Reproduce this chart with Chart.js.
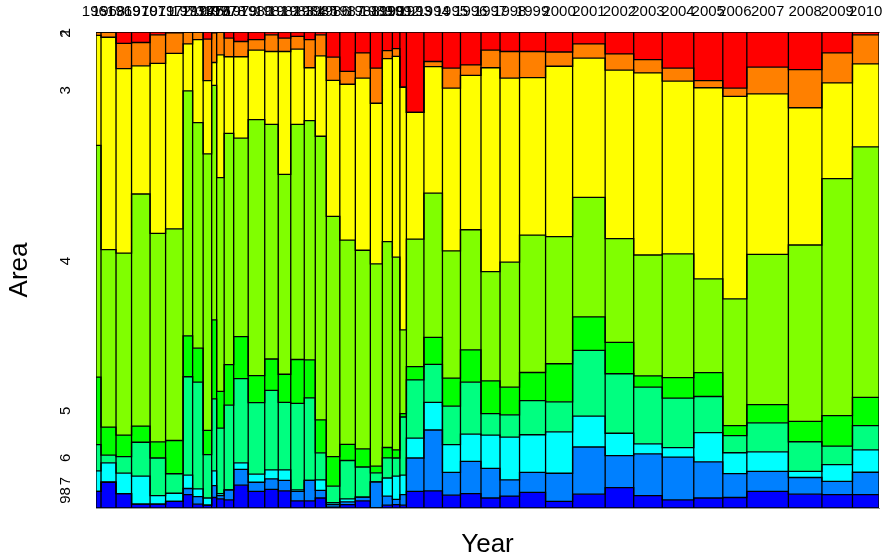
<!DOCTYPE html>
<html>
<head>
<meta charset="utf-8">
<script src="https://cdn.jsdelivr.net/npm/chart.js@4.4.1/dist/chart.umd.min.js"></script>
<style>
  html, body { margin: 0; padding: 0; background: #fff; }
  #wrap { width: 885px; height: 558px; }
</style>
</head>
<body>
<div id="wrap"><canvas id="chart"></canvas></div>
<script>
const years = [1961, 1968, 1969, 1970, 1971, 1972, 1973, 1974, 1975, 1976, 1977, 1978, 1979, 1980, 1981,
  1982, 1983, 1984, 1985, 1986, 1987, 1988, 1989, 1990, 1991, 1992, 1993, 1994, 1995, 1996, 1997, 1998,
  1999, 2000, 2001, 2002, 2003, 2004, 2005, 2006, 2007, 2008, 2009, 2010];

// observations per year (column widths)
const yearCounts = [10, 30, 31, 37, 31, 35, 19, 21, 17, 10, 15, 19, 29, 33, 27, 25, 27, 22, 22, 27,
  31, 30, 24, 20, 15, 13, 35, 37, 36, 41, 38, 39, 52, 54, 65, 57, 57, 63, 58, 48, 83, 67, 61, 53];

const areaLabels = ['1', '2', '3', '4', '5', '6', '7', '8', '9'];
const areaColors = ['#FF0000', '#FF8000', '#FFFF00', '#80FF00', '#00FF00', '#00FF80', '#00FFFF', '#0080FF', '#0000FF'];

// share (%) of each area within each year
const area1 = [0, 0, 2.4, 2.2, 0.6, 0.2, 0, 0, 1.5, 0.2, 0, 1.3, 2.0, 1.6, 0.6, 1.3, 0.9, 1.6, 0.6, 5.3,
  8.3, 4.4, 7.6, 3.9, 3.5, 11.6, 16.9, 6.2, 7.6, 6.9, 3.8, 4.1, 4.1, 4.2, 2.5, 4.6, 5.8, 7.6, 10.2, 11.8, 7.4, 7.9, 4.4, 0.6];
const area2 = [0.7, 1.1, 5.3, 4.9, 6.0, 4.3, 2.5, 1.6, 8.7, 6.2, 4.8, 3.9, 3.2, 2.2, 3.5, 2.8, 2.7, 5.9, 4.4, 4.9,
  2.7, 5.3, 7.4, 1.7, 1.6, 0, 0, 1.1, 4.2, 2.2, 3.7, 5.6, 5.5, 3.0, 3.0, 3.4, 2.8, 2.7, 1.5, 1.7, 5.6, 8.0, 6.3, 6.1];
const area3 = [23.1, 44.6, 38.7, 26.9, 35.7, 36.9, 9.9, 17.4, 15.4, 4.8, 25.8, 16.1, 17.1, 14.6, 15.3, 25.8, 15.8, 11.1, 16.9, 28.6,
  32.8, 36.1, 33.8, 38.4, 42.2, 50.9, 26.6, 26.6, 34.2, 32.4, 42.8, 38.7, 33.1, 35.8, 29.2, 35.4, 38.3, 36.3, 40.1, 42.5, 33.7, 28.8, 20.1, 17.4];
const area4 = [48.7, 37.3, 38.2, 48.7, 43.8, 44.5, 51.5, 47.3, 58.1, 49.2, 44.9, 48.6, 41.7, 53.7, 49.3, 42.0, 49.4, 50.2, 59.6, 50.6,
  43.0, 41.7, 42.6, 43.2, 40.5, 17.6, 26.8, 30.3, 26.7, 25.2, 22.9, 26.3, 28.9, 26.7, 25.1, 21.8, 25.4, 26.0, 19.7, 26.6, 31.6, 37.0, 49.8, 52.6];
const area5 = [14.2, 5.9, 4.5, 3.4, 3.4, 7.0, 8.6, 7.1, 5.1, 16.6, 7.7, 8.5, 8.8, 5.7, 6.6, 5.9, 9.2, 8.0, 6.9, 6.2,
  3.4, 3.8, 1.4, 2.2, 1.7, 0.7, 2.8, 5.7, 5.9, 6.8, 6.9, 5.8, 5.9, 8.0, 7.0, 6.6, 2.4, 4.3, 5.0, 2.1, 3.8, 4.3, 6.4, 5.9];
const area6 = [5.5, 1.6, 3.5, 7.1, 7.9, 4.1, 20.7, 22.4, 9.1, 15.1, 13.8, 17.8, 17.7, 15.0, 16.7, 14.2, 18.2, 17.3, 5.7, 3.5,
  8.1, 6.3, 1.9, 4.2, 3.8, 12.2, 12.2, 8.0, 8.1, 10.9, 4.5, 4.7, 7.2, 6.3, 13.8, 12.5, 11.9, 10.4, 7.6, 3.6, 6.1, 6.2, 3.9, 5.1];
const area7 = [4.3, 4.0, 4.3, 5.9, 1.8, 1.7, 2.8, 1.6, 1.5, 3.1, 0.4, 0, 1.4, 1.7, 1.9, 2.2, 0.3, 0, 2.2, 0.4,
  0.6, 0, 0, 3.8, 4.9, 4.1, 4.2, 5.8, 5.8, 5.7, 7.0, 9.0, 7.9, 8.7, 6.5, 4.7, 2.1, 2.0, 6.1, 4.4, 4.1, 1.3, 3.5, 4.7];
const area8 = [0, 0.1, 0, 0, 0, 0, 1.3, 1.6, 0, 2.5, 0.7, 2.1, 3.3, 1.9, 2.2, 2.2, 2.0, 4.3, 1.6, 0.5,
  0.6, 0.8, 5.5, 1.9, 1.1, 2.2, 7.0, 12.8, 4.8, 6.8, 6.2, 3.4, 4.2, 5.9, 9.9, 6.7, 8.8, 9.0, 7.6, 5.0, 4.2, 3.5, 2.8, 4.7];
const area9 = [3.5, 5.4, 3.0, 0.8, 0.8, 1.4, 2.8, 0.8, 0.6, 2.2, 1.9, 1.7, 4.8, 3.5, 3.9, 3.6, 1.5, 1.5, 2.1, 0.2,
  0.7, 1.5, 0, 0.6, 0.7, 0.6, 3.5, 3.6, 2.7, 3.0, 2.1, 2.5, 3.3, 1.4, 2.9, 4.3, 2.6, 1.7, 2.1, 2.2, 3.5, 2.9, 2.8, 2.8];

const areaShares = [area1, area2, area3, area4, area5, area6, area7, area8, area9];

// column edges on the x scale
const edges = [0];
yearCounts.forEach(n => edges.push(edges[edges.length - 1] + n));
const total = edges[edges.length - 1];
const centers = yearCounts.map((n, i) => edges[i] + n / 2);

// stack from the bottom: area 9 first, area 1 on top
const stackOrder = [8, 7, 6, 5, 4, 3, 2, 1, 0];
const colTotals = years.map((_, i) => areaShares.reduce((s, a) => s + a[i], 0));
const cum = [];
let running = years.map(() => 0);
stackOrder.forEach(k => {
  running = running.map((r, i) => r + areaShares[k][i] / colTotals[i]);
  cum.push(running.slice());
});

// y axis labels sit at the middle of each segment of the first column
const yTicks = [];
stackOrder.forEach((k, j) => {
  const lo = j === 0 ? 0 : cum[j - 1][0];
  yTicks.push({ value: (lo + cum[j][0]) / 2, label: areaLabels[k] });
});

const last = years.length - 1;
const bandSets = stackOrder.map((k, j) => ({
  label: areaLabels[k],
  data: edges.map((x, i) => ({ x: x, y: cum[j][Math.min(i, last)] })),
  stepped: 'before',
  fill: j === 0 ? 'origin' : '-1',
  backgroundColor: areaColors[k],
  borderColor: '#000',
  borderWidth: 1.3,
  pointRadius: 0
}));

const edgeData = [];
edges.forEach(x => { edgeData.push({ x: x, y: 0 }, { x: x, y: 1 }, { x: x, y: null }); });
edgeData.push({ x: 0, y: 0 }, { x: total, y: 0 });

const noPad = s => { s.paddingLeft = 0; s.paddingRight = 0; s.paddingTop = 0; s.paddingBottom = 0; };

const ctx = document.getElementById('chart');
Chart.defaults.font.family = "'Liberation Sans', Arial, sans-serif";
Chart.defaults.color = '#000';

new Chart(ctx, {
  type: 'line',
  data: {
    datasets: bandSets.concat([{
      label: 'edges',
      data: edgeData,
      fill: false,
      borderColor: '#000',
      borderWidth: 1.3,
      pointRadius: 0,
      spanGaps: false
    }])
  },
  options: {
    responsive: true,
    maintainAspectRatio: false,
    animation: false,
    devicePixelRatio: 1,
    layout: { padding: { left: 0, right: 6, top: 0, bottom: 0 } },
    plugins: {
      legend: { display: false },
      tooltip: { enabled: false },
      filler: { drawTime: 'beforeDatasetsDraw' }
    },
    scales: {
      x: {
        type: 'linear',
        position: 'bottom',
        min: 0,
        max: total,
        ticks: { display: false },
        grid: { display: false, drawTicks: false },
        border: { color: '#999' },
        title: { display: true, text: 'Year', color: '#000', font: { size: 26, lineHeight: 1 }, padding: 0 },
        afterFit: s => { s.height = 50; noPad(s); }
      },
      xTop: {
        type: 'linear',
        position: 'top',
        min: 0,
        max: total,
        afterBuildTicks: s => { s.ticks = centers.map(v => ({ value: v })); },
        ticks: {
          autoSkip: false,
          minRotation: 0,
          maxRotation: 0,
          padding: 11,
          color: '#000',
          font: { size: 15, family: "'Liberation Sans Narrow', 'Liberation Sans', Arial" },
          callback: (v, i) => String(years[i])
        },
        grid: { display: false, drawTicks: false },
        border: { color: '#999' },
        afterFit: s => { s.height = 32; noPad(s); }
      },
      y: {
        type: 'linear',
        position: 'left',
        min: 0,
        max: 1,
        afterBuildTicks: s => { s.ticks = yTicks.map(t => ({ value: t.value })); },
        ticks: {
          autoSkip: false,
          minRotation: 90,
          maxRotation: 90,
          crossAlign: 'center',
          padding: 26,
          color: '#000',
          font: { size: 15 },
          callback: (v, i) => yTicks[i].label
        },
        grid: { display: false, drawTicks: false },
        border: { color: '#999' },
        title: { display: true, text: 'Area', color: '#000', font: { size: 26, lineHeight: 1 }, padding: { top: 7, bottom: 0 } },
        afterFit: s => { s.width = 96; noPad(s); }
      }
    }
  }
});
</script>
</body>
</html>
